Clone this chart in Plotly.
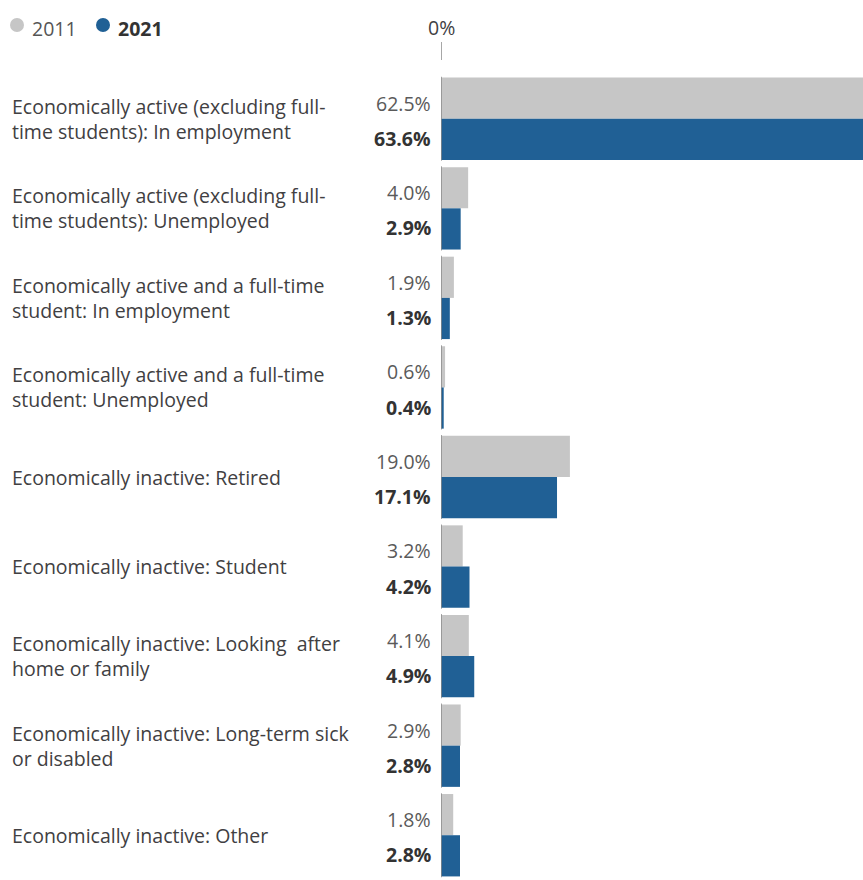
import plotly.graph_objects as go

categories = [
    "Economically active (excluding full-<br>time students): In employment",
    "Economically active (excluding full-<br>time students): Unemployed",
    "Economically active and a full-time<br>student: In employment",
    "Economically active and a full-time<br>student: Unemployed",
    "Economically inactive: Retired",
    "Economically inactive: Student",
    "Economically inactive: Looking  after<br>home or family",
    "Economically inactive: Long-term sick<br>or disabled",
    "Economically inactive: Other",
]
values_2011 = [62.5, 4.0, 1.9, 0.6, 19.0, 3.2, 4.1, 2.9, 1.8]
values_2021 = [63.6, 2.9, 1.3, 0.4, 17.1, 4.2, 4.9, 2.8, 2.8]

GREY = "#c6c6c6"
BLUE = "#206095"
TEXT = "#414042"
FONT = "Open Sans"
FS = 19.5

W, H = 863, 880
L, T = 441, 74
plot_h = H - T

pos = list(range(len(categories)))

fig = go.Figure()
fig.add_trace(go.Bar(y=pos, x=values_2011, orientation="h", name="2011",
                     marker=dict(color=GREY, line=dict(width=0)), hoverinfo="skip"))
fig.add_trace(go.Bar(y=pos, x=values_2021, orientation="h", name="2021",
                     marker=dict(color=BLUE, line=dict(width=0)), hoverinfo="skip"))

annotations = []
shapes = []
half = 0.23
for i, cat in enumerate(categories):
    # category label, left aligned in the margin
    annotations.append(dict(
        xref="paper", yref="y", x=0, y=i, xshift=-(L - 10), xanchor="left",
        yanchor="middle", align="left", text=cat, showarrow=False,
        font=dict(family=FONT, size=FS, color=TEXT)))
    # value labels to the left of the zero line
    annotations.append(dict(
        xref="x", yref="y", x=0, y=i - half, xshift=-8, yshift=-5, xanchor="right",
        yanchor="middle", text=f"{values_2011[i]:.1f}%", showarrow=False,
        font=dict(family=FONT, size=FS, color="#5a5a5a")))
    annotations.append(dict(
        xref="x", yref="y", x=0, y=i + half, xshift=-8, yshift=1, xanchor="right",
        yanchor="middle", text=f"<b>{values_2021[i]:.1f}%</b>", showarrow=False,
        font=dict(family=FONT, size=FS, color="#333333")))
    # zero line segment for each group
    shapes.append(dict(type="line", xref="x", yref="y", x0=0, x1=0,
                       y0=i - 0.47, y1=i + 0.47,
                       line=dict(color="#8a8a8a", width=1.5)))

# top axis label and tick
annotations.append(dict(xref="x", yref="paper", x=0, y=1, yshift=(T - 27),
                        xanchor="center", yanchor="middle", text="0%", showarrow=False,
                        font=dict(family=FONT, size=FS, color=TEXT)))
shapes.append(dict(type="line", xref="x", yref="paper", x0=0, x1=0,
                   y0=1 + 14 / plot_h, y1=1 + 32 / plot_h,
                   line=dict(color="#8a8a8a", width=1.5)))

# legend
legend_items = [("2011", GREY, False, 17), ("2021", BLUE, True, 103)]
for label, color, bold, cx in legend_items:
    shapes.append(dict(type="circle", xref="paper", yref="paper",
                       xsizemode="pixel", ysizemode="pixel", xanchor=0, yanchor=1,
                       x0=cx - L - 7, x1=cx - L + 7,
                       y0=(T - 25) - 7, y1=(T - 25) + 7,
                       fillcolor=color, line=dict(width=0)))
    annotations.append(dict(xref="paper", yref="paper", x=0, y=1,
                            xshift=(cx + 13 - L), yshift=(T - 28),
                            xanchor="left", yanchor="middle",
                            text=f"<b>{label}</b>" if bold else label, showarrow=False,
                            font=dict(family=FONT, size=FS,
                                      color="#333333" if bold else "#555555")))

fig.update_layout(
    width=W, height=H,
    margin=dict(l=L, r=0, t=T, b=0),
    barmode="group", bargap=0.08, bargroupgap=0,
    plot_bgcolor="white", paper_bgcolor="white",
    showlegend=False,
    xaxis=dict(range=[0, 62.2], showgrid=False, zeroline=False,
               showticklabels=False, ticks="", showline=False, fixedrange=True),
    yaxis=dict(range=[len(categories) - 0.5, -0.5], showgrid=False, zeroline=False,
               showticklabels=False, ticks="", showline=False, fixedrange=True),
    annotations=annotations,
    shapes=shapes,
)

fig.write_html("out.html")
